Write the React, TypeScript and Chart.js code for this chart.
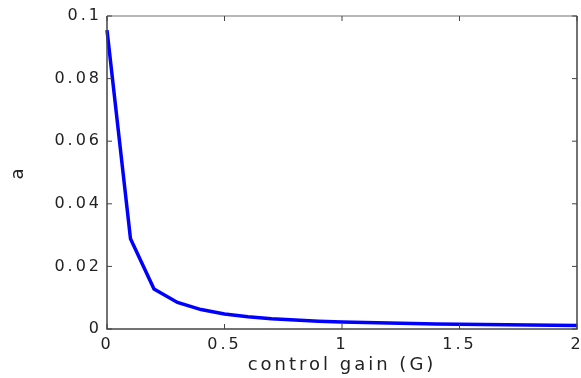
import React, { useEffect, useRef } from "react";
import { Chart, registerables } from "chart.js";

Chart.register(...registerables);

const gainValues = [0, 0.1, 0.2, 0.3, 0.4, 0.5, 0.6, 0.7, 0.8, 0.9, 1.0, 1.2, 1.4, 1.6, 1.8, 2.0];
const aValues = [0.0955, 0.0288, 0.0128, 0.0085, 0.0062, 0.0048, 0.0039, 0.0033, 0.0029, 0.0025, 0.0022, 0.0019, 0.0016, 0.0014, 0.0013, 0.0011];
const xTicks = [0, 0.5, 1, 1.5, 2];
const yTicks = [0, 0.02, 0.04, 0.06, 0.08, 0.1];
const xTitle = "control gain (G)";
const yTitle = "a";

const FONT = "'DejaVu Sans', 'Liberation Sans', sans-serif";
const SPACING = "3px";

const boxPlugin = {
  id: "boxTicks",
  beforeUpdate(chart: any) {
    chart.ctx.letterSpacing = SPACING;
  },
  beforeDraw(chart: any) {
    chart.ctx.letterSpacing = SPACING;
  },
  afterDatasetsDraw(chart: any) {
    const ctx = chart.ctx;
    const a = chart.chartArea;
    const x = chart.scales.x;
    const y = chart.scales.y;
    ctx.save();
    ctx.lineWidth = 1.5;
    ctx.strokeStyle = "#a0a0a0";
    ctx.beginPath();
    ctx.moveTo(a.left, a.top);
    ctx.lineTo(a.right, a.top);
    ctx.stroke();
    ctx.strokeStyle = "#444444";
    ctx.beginPath();
    ctx.moveTo(a.left, a.top);
    ctx.lineTo(a.left, a.bottom);
    ctx.lineTo(a.right, a.bottom);
    ctx.lineTo(a.right, a.top);
    ctx.stroke();
    const len = 5;
    ctx.lineWidth = 1;
    ctx.beginPath();
    xTicks.forEach((v) => {
      const px = x.getPixelForValue(v);
      ctx.moveTo(px, a.bottom);
      ctx.lineTo(px, a.bottom - len);
      ctx.moveTo(px, a.top);
      ctx.lineTo(px, a.top + len);
    });
    yTicks.forEach((v) => {
      const py = y.getPixelForValue(v);
      ctx.moveTo(a.left, py);
      ctx.lineTo(a.left + len, py);
      ctx.moveTo(a.right, py);
      ctx.lineTo(a.right - len, py);
    });
    ctx.stroke();
    ctx.restore();
  },
};

export default function App() {
  const ref = useRef<HTMLCanvasElement>(null);
  useEffect(() => {
    if (!ref.current) return;
    const chart = new Chart(ref.current, {
      type: "line",
      data: {
        datasets: [
          {
            data: gainValues.map((g, i) => ({ x: g, y: aValues[i] })),
            borderColor: "#0000ff",
            borderWidth: 3.5,
            pointRadius: 0,
            tension: 0,
            fill: false,
            clip: false,
          },
        ],
      },
      options: {
        animation: false,
        responsive: false,
        maintainAspectRatio: false,
        plugins: { legend: { display: false }, tooltip: { enabled: false } },
        layout: { padding: { top: 16, right: 4, left: 0, bottom: 0 } },
        scales: {
          x: {
            type: "linear",
            min: 0,
            max: 2,
            afterBuildTicks: (s: any) => {
              s.ticks = xTicks.map((v) => ({ value: v }));
            },
            afterFit: (s: any) => {
              s.height = 49;
              s.paddingLeft = 0;
              s.paddingRight = 0;
            },
            grid: { display: false, drawTicks: false },
            border: { display: false },
            ticks: {
              color: "#222",
              padding: 6,
              maxRotation: 0,
              font: { family: FONT, size: 16 },
              callback: (v: any) => String(v),
            },
            title: {
              display: true,
              text: xTitle,
              color: "#222",
              font: { family: FONT, size: 18 },
              padding: { top: 0, bottom: 2 },
            },
          },
          y: {
            type: "linear",
            min: 0,
            max: 0.1,
            afterBuildTicks: (s: any) => {
              s.ticks = yTicks.map((v) => ({ value: v }));
            },
            afterFit: (s: any) => {
              s.width = 107;
            },
            grid: { display: false, drawTicks: false },
            border: { display: false },
            ticks: {
              color: "#222",
              padding: 5,
              font: { family: FONT, size: 16 },
              callback: (v: any) => String(parseFloat(Number(v).toFixed(3))),
            },
            title: {
              display: true,
              text: yTitle,
              color: "#222",
              font: { family: FONT, size: 18 },
              padding: { top: 8, bottom: 0 },
            },
          },
        },
      },
      plugins: [boxPlugin],
    });
    return () => chart.destroy();
  }, []);
  return (
    <div style={{ position: "fixed", left: 0, top: 0, width: 581, height: 378, background: "#fff" }}>
      <canvas ref={ref} width={581} height={378} style={{ display: "block" }} />
    </div>
  );
}
